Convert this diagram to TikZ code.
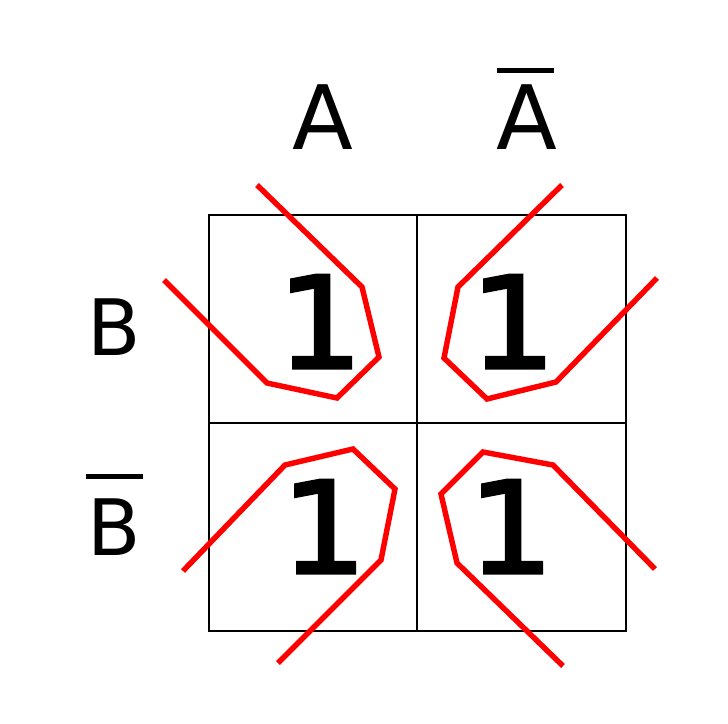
\documentclass[tikz,border=0pt]{standalone}
\usepackage{fontspec}
\usepackage{tikz}
\setmainfont{DejaVu Sans}
\newfontfamily\onefont[FakeBold=2.6]{DejaVu Sans}
\newcommand{\invbar}[1]{\rlap{\rule[43.4pt]{32.5pt}{2.8pt}}#1}

\begin{document}
\begin{tikzpicture}[scale=0.2]
            \tikzstyle{every node}+=[inner sep=0pt]
            \tikzstyle{varlabel}=[anchor=base]
            \tikzstyle{cellone}=[anchor=base, xscale=1.06, font=\fontsize{72.3}{80}\onefont]
            \tikzstyle{loop}=[red, line width=3.1pt]
            \useasboundingbox (0,0) rectangle (72.8,-72.4);
            % map grid
            \draw [black, line width=1pt] (20.9,-21.5) rectangle (62.6,-63.1);
            \draw [black, line width=1pt] (41.7,-21.5) -- (41.7,-63.1);
            \draw [black, line width=1pt] (20.9,-42.3) -- (62.6,-42.3);
            % variable labels
            \node [varlabel, font=\fontsize{50.6}{60}\selectfont] (a) at (32.25,-14.9) {A};
            \node [varlabel, font=\fontsize{50.6}{60}\selectfont] (nota) at (52.7,-14.9) {\invbar{A}};
            \node [varlabel, font=\fontsize{44.3}{52}\selectfont] (b) at (11.45,-35.5) {B};
            \node [varlabel, font=\fontsize{44.3}{52}\selectfont] (notb) at (11.4,-55.5) {\hspace{-1pt}\invbar{\hspace{1pt}B}};
            % cells
            \node [cellone] (ab) at (32.0,-36.8) {1};
            \node [cellone] (notab) at (51.3,-36.8) {1};
            \node [cellone] (anotb) at (32.4,-57.3) {1};
            \node [cellone] (notanotb) at (51.1,-57.3) {1};
            % groupings
            \draw [loop] (25.7,-18.5) -- (36.2,-28.7) -- (37.9,-35.7) -- (33.7,-39.8) -- (26.7,-38.3) -- (16.4,-28.0);
            \draw [loop] (56.2,-18.5) -- (45.8,-28.7) -- (44.4,-35.8) -- (48.7,-39.9) -- (55.6,-38.2) -- (65.7,-27.8);
            \draw [loop] (18.3,-57.1) -- (28.5,-46.5) -- (35.3,-44.9) -- (39.5,-48.9) -- (38.1,-56.0) -- (27.8,-66.3);
            \draw [loop] (65.5,-56.9) -- (55.3,-46.5) -- (48.3,-45.2) -- (44.1,-49.4) -- (45.7,-56.3) -- (56.3,-66.6);
            \end{tikzpicture}
\end{document}
